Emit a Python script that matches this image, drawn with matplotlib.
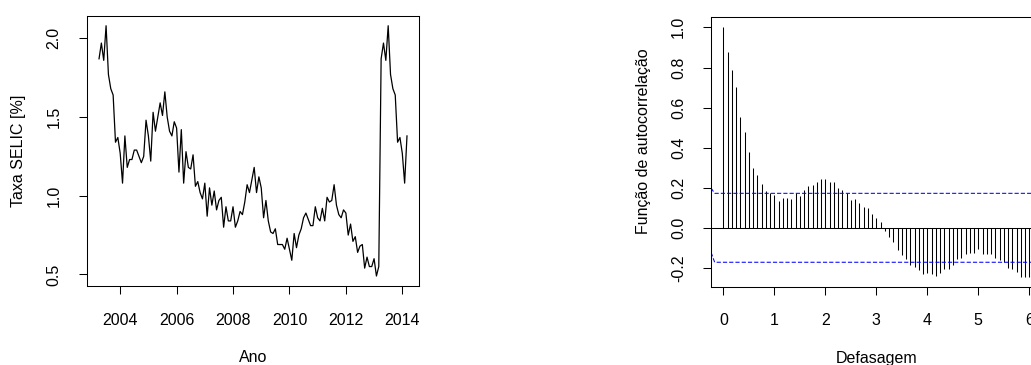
import numpy as np
import matplotlib
matplotlib.use("Agg")
import matplotlib.pyplot as plt
from matplotlib.ticker import FormatStrFormatter

plt.rcParams['font.family'] = ['Liberation Sans', 'DejaVu Sans']
plt.rcParams['font.size'] = 11.5

# taxa SELIC mensal (%), de abril/2003 a marco/2014
selic = [1.87, 1.97, 1.86, 2.08, 1.77, 1.68, 1.64, 1.34, 1.37,
         1.27, 1.08, 1.38, 1.18, 1.23, 1.23, 1.29, 1.29, 1.25, 1.21, 1.25, 1.48,
         1.38, 1.22, 1.53, 1.41, 1.50, 1.59, 1.51, 1.66, 1.50, 1.41, 1.38, 1.47,
         1.43, 1.15, 1.42, 1.08, 1.28, 1.18, 1.17, 1.26, 1.06, 1.09, 1.02, 0.98,
         1.08, 0.87, 1.05, 0.94, 1.03, 0.91, 0.97, 0.99, 0.80, 0.93, 0.84, 0.84,
         0.93, 0.80, 0.84, 0.90, 0.88, 0.96, 1.07, 1.02, 1.10, 1.18, 1.02, 1.12,
         1.05, 0.86, 0.97, 0.84, 0.77, 0.76, 0.79, 0.69, 0.69, 0.69, 0.66, 0.73,
         0.66, 0.59, 0.76, 0.67, 0.75, 0.79, 0.86, 0.89, 0.85, 0.81, 0.81, 0.93,
         0.86, 0.84, 0.92, 0.84, 0.99, 0.96, 0.97, 1.07, 0.94, 0.88, 0.86, 0.91,
         0.89, 0.75, 0.82, 0.71, 0.74, 0.64, 0.68, 0.69, 0.54, 0.61, 0.55, 0.55,
         0.60, 0.49, 0.55, 1.87, 1.97, 1.86, 2.08, 1.77, 1.68, 1.64, 1.34, 1.37,
         1.27, 1.08, 1.38]
inicio = 2003 + 3 / 12
ano = inicio + np.arange(len(selic)) / 12

# autocorrelacao amostral, defasagens de 0 a 72 meses
fac = [1.000, 0.875, 0.788, 0.702, 0.553, 0.478, 0.378, 0.299, 0.264, 0.221,
       0.186, 0.178, 0.164, 0.136, 0.149, 0.149, 0.146, 0.174, 0.161, 0.189,
       0.212, 0.216, 0.229, 0.244, 0.246, 0.229, 0.229, 0.201, 0.191, 0.174,
       0.141, 0.144, 0.124, 0.105, 0.100, 0.071, 0.051, 0.030, -0.012, -0.043,
       -0.070, -0.108, -0.134, -0.153, -0.184, -0.193, -0.207, -0.227, -0.224, -0.227,
       -0.237, -0.221, -0.204, -0.202, -0.181, -0.153, -0.149, -0.126, -0.124, -0.124,
       -0.103, -0.126, -0.126, -0.126, -0.149, -0.156, -0.169, -0.196, -0.202, -0.216,
       -0.241, -0.241, -0.241]
defasagem = np.arange(len(fac)) / 12

# limites de confianca (tracejado azul)
ic_defas = [-0.24, -0.17, 6.3]
ic_sup = [0.20, 0.174, 0.174]
ic_inf = [-0.12, -0.169, -0.169]


def faixa(vmin, vmax):
    # margem de 4% como no R
    m = 0.04 * (vmax - vmin)
    return vmin - m, vmax + m


def estilo(ax):
    for s in ax.spines.values():
        s.set_color('black')
        s.set_linewidth(0.75)
    ax.tick_params(direction='out', length=6.1, width=0.75, color='black')
    ax.tick_params(axis='x', pad=13)
    ax.tick_params(axis='y', pad=12)
    for lab in ax.get_yticklabels():
        lab.set_rotation(90)
        lab.set_va('center')


fig = plt.figure(figsize=(10.31, 3.65), dpi=100)

ax1 = fig.add_axes([0.0841, 0.2164, 0.3226, 0.7405])
ax1.plot(ano, selic, color='black', lw=0.9)
ax1.set_xlim(*faixa(min(ano), max(ano)))
ax1.set_ylim(*faixa(min(selic), max(selic)))
ax1.set_xticks(range(2004, 2015, 2))
ax1.set_yticks([0.5, 1.0, 1.5, 2.0])
ax1.yaxis.set_major_formatter(FormatStrFormatter('%.1f'))
ax1.set_xlabel('Ano', va='center')
ax1.set_ylabel('Taxa SELIC [%]', va='center')
ax1.xaxis.set_label_coords(0.5, -0.266)
ax1.yaxis.set_label_coords(-0.2057, 0.5)
estilo(ax1)

ax2 = fig.add_axes([0.6897, 0.2145, 0.3205, 0.738])
ax2.vlines(defasagem, 0, fac, color='black', lw=0.75)
ax2.axhline(0, color='black', lw=0.75)
ax2.plot(ic_defas, ic_sup, color='blue', lw=0.75, ls=(0, (4, 2)))
ax2.plot(ic_defas, ic_inf, color='blue', lw=0.75, ls=(0, (4, 2)))
ax2.set_xlim(*faixa(0, max(defasagem)))
ax2.set_ylim(*faixa(min(min(fac), min(ic_inf)), max(fac)))
ax2.set_xticks(range(0, 7))
ax2.set_yticks([-0.2, 0.0, 0.2, 0.4, 0.6, 0.8, 1.0])
ax2.yaxis.set_major_formatter(FormatStrFormatter('%.1f'))
ax2.set_xlabel('Defasagem', va='center')
ax2.set_ylabel('Função de autocorrelação', va='center')
ax2.xaxis.set_label_coords(0.5, -0.265)
ax2.yaxis.set_label_coords(-0.2052, 0.54)
estilo(ax2)

fig.savefig('out.png', dpi=100, facecolor='white')
